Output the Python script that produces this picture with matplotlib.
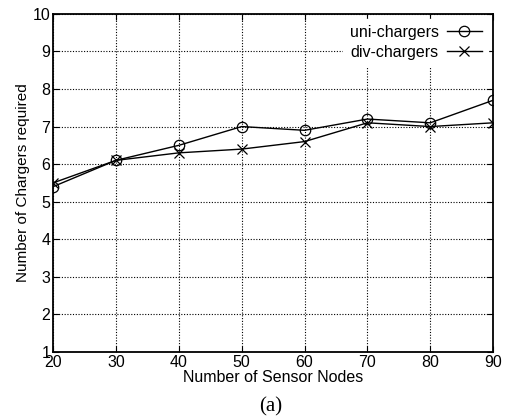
import matplotlib
matplotlib.use("Agg")
import matplotlib.pyplot as plt

nodes = [20, 30, 40, 50, 60, 70, 80, 90]
uni_chargers = [5.4, 6.1, 6.5, 7.0, 6.9, 7.2, 7.1, 7.7]
div_chargers = [5.5, 6.1, 6.3, 6.4, 6.6, 7.1, 7.0, 7.1]

plt.rcParams['font.family'] = ['Liberation Sans', 'DejaVu Sans']

fig = plt.figure(figsize=(5.1, 4.2), dpi=100)
ax = fig.add_axes([0.104, 0.162, 0.863, 0.805])

ax.plot(nodes, uni_chargers, color="black", lw=1, marker="o", ms=7.5,
        mfc="none", mew=0.9, label="uni-chargers")
ax.plot(nodes, div_chargers, color="black", lw=1, marker="x", ms=7.5,
        mew=0.9, label="div-chargers")

ax.set_xlim(20, 90)
ax.set_ylim(1, 10)
ax.set_xticks(nodes)
ax.set_yticks(range(1, 11))
ax.grid(True, color="black", linestyle=(0, (1, 1.5)), linewidth=0.8)
ax.tick_params(direction="in", top=True, right=True, labelsize=11.5, length=4, pad=2)
for s in ax.spines.values():
    s.set_linewidth(1.3)

ax.set_xlabel("Number of Sensor Nodes", fontsize=11.5, labelpad=0)
ax.set_ylabel("Number of Chargers required", fontsize=11, labelpad=2)

leg = ax.legend(loc="upper right", markerfirst=False, frameon=True, fontsize=11.5,
                handlelength=2.2, borderaxespad=0.3, labelspacing=0.3,
                handletextpad=0.5, fancybox=False, edgecolor="white",
                framealpha=1)

fig.text(0.53, 0.02, "(a)", ha="center", fontsize=15, family=["Liberation Serif", "DejaVu Serif"])

fig.savefig("out.png", dpi=100)
